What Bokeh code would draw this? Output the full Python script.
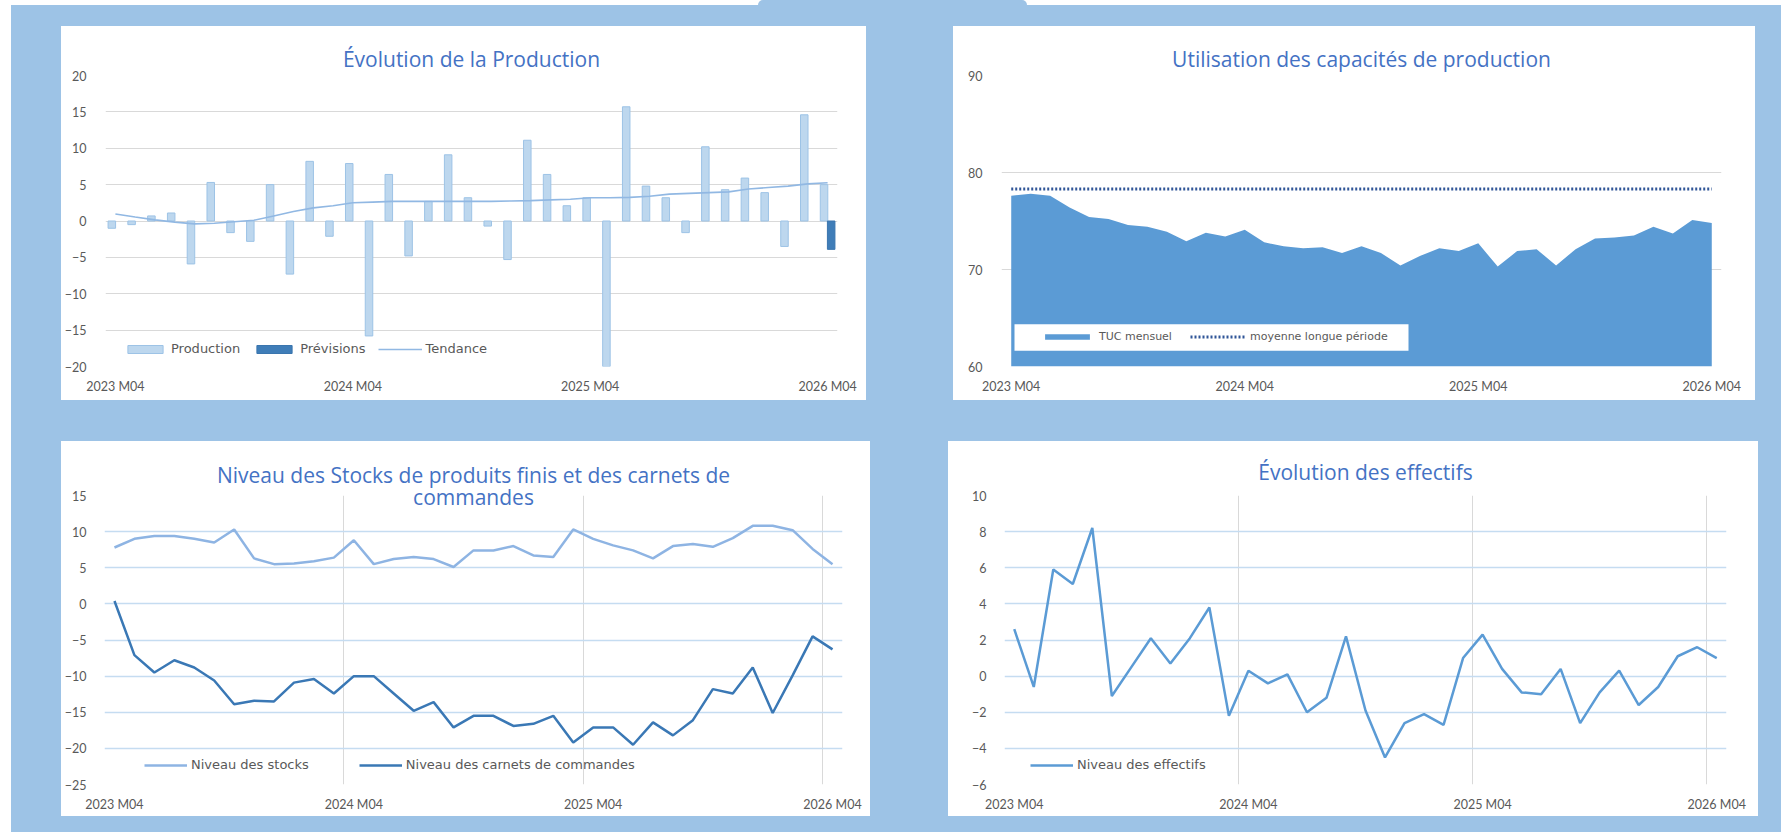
from bokeh.plotting import figure
from bokeh.models import (Range1d, FixedTicker, Legend, LegendItem, BoxAnnotation,
                          Spacer, Title)
from bokeh.layouts import column, row
from bokeh.embed import file_html
from bokeh.resources import INLINE

# ---------------- data ----------------
months = [f"{2023 + (3 + i) // 12} M{(3 + i) % 12 + 1:02d}" for i in range(37)]
tick_labels = ["2023 M04", "2024 M04", "2025 M04", "2026 M04"]

production = [-1.0, -0.5, 0.7, 1.1, -5.9, 5.3, -1.6, -2.8, 5.0, -7.3, 8.2, -2.1, 7.9,
              -15.8, 6.4, -4.8, 2.7, 9.1, 3.2, -0.7, -5.3, 11.1, 6.4, 2.1, 3.2, -20.0,
              15.7, 4.8, 3.2, -1.6, 10.2, 4.3, 5.9, 3.9, -3.5, 14.6, 5.0]
prevision_months = ["2026 M04"]
previsions = [-3.9]
tendance = [0.96, 0.55, 0.15, -0.15, -0.4, -0.3, -0.1, 0.1, 0.7, 1.3, 1.8, 2.1, 2.5,
            2.6, 2.7, 2.7, 2.7, 2.7, 2.7, 2.7, 2.75, 2.8, 2.9, 3.0, 3.2, 3.2, 3.25,
            3.4, 3.7, 3.8, 3.9, 4.0, 4.4, 4.6, 4.8, 5.1, 5.25]

tuc_mensuel = [77.6, 77.8, 77.6, 76.4, 75.4, 75.2, 74.6, 74.4, 73.9, 72.9, 73.8, 73.4,
               74.1, 72.8, 72.4, 72.2, 72.3, 71.7, 72.4, 71.7, 70.4, 71.4, 72.2, 71.9,
               72.7, 70.3, 71.9, 72.1, 70.4, 72.1, 73.2, 73.3, 73.5, 74.4, 73.7, 75.1, 74.8]
moyenne_longue_periode = 78.3

stocks = [7.8, 9.0, 9.4, 9.4, 9.0, 8.5, 10.3, 6.3, 5.5, 5.6, 5.9, 6.4, 8.8, 5.5, 6.2,
          6.5, 6.2, 5.1, 7.4, 7.4, 8.0, 6.7, 6.5, 10.3, 9.0, 8.1, 7.4, 6.3, 8.0, 8.3,
          7.9, 9.1, 10.8, 10.8, 10.2, 7.6, 5.5]
carnets = [0.4, -7.1, -9.5, -7.8, -8.8, -10.6, -13.9, -13.4, -13.5, -10.9, -10.4, -12.4,
           -10.0, -10.0, -12.4, -14.8, -13.6, -17.1, -15.5, -15.5, -16.9, -16.6, -15.5,
           -19.2, -17.1, -17.1, -19.5, -16.4, -18.2, -16.1, -11.8, -12.4, -8.8, -15.1,
           -9.9, -4.5, -6.3]

effectifs = [2.6, -0.6, 5.9, 5.1, 8.2, -1.1, 0.5, 2.1, 0.7, 2.1, 3.8, -2.2, 0.3, -0.4,
             0.1, -2.0, -1.2, 2.2, -1.9, -4.5, -2.6, -2.1, -2.7, 1.0, 2.3, 0.4, -0.9,
             -1.0, 0.4, -2.6, -0.9, 0.3, -1.6, -0.6, 1.1, 1.6, 1.0]

idx = list(range(len(months)))
tick_pos = [months.index(t) for t in tick_labels]
year_bounds = [p - 0.5 for p in tick_pos]

FONT = "Lato"
TITLE_FONT = "Open Sans"
LEG_FONT = "DejaVu Sans"
TXT = "#595959"
TITLE_COLOR = "#4472C4"
BG_BLUE = "#9DC3E6"


def make_fig(w, h, left, right, top, bottom, yr, yticks, xstand, ystand):
    p = figure(width=w, height=h, x_range=Range1d(-0.5, len(months) - 0.5),
               y_range=Range1d(*yr), output_backend="svg", toolbar_location=None,
               min_border_left=left, min_border_right=right,
               min_border_top=top, min_border_bottom=bottom,
               styles={"background-color": "white"})
    p.outline_line_color = None
    p.background_fill_color = "white"
    p.border_fill_color = "white"
    for ax in (p.xaxis[0], p.yaxis[0]):
        ax.axis_line_color = None
        ax.major_tick_line_color = None
        ax.minor_tick_line_color = None
        ax.major_label_text_font = FONT
        ax.major_label_text_font_size = "12.5px"
        ax.major_label_text_color = TXT
    p.xaxis.ticker = FixedTicker(ticks=tick_pos)
    p.xaxis.major_label_overrides = {pos: lab for pos, lab in zip(tick_pos, tick_labels)}
    p.xaxis.major_label_standoff = xstand
    p.yaxis.ticker = FixedTicker(ticks=yticks)
    p.yaxis.major_label_standoff = ystand
    p.ygrid.grid_line_color = "#D9D9D9"
    p.ygrid.grid_line_width = 1
    p.xgrid.visible = False
    return p


def add_title(p, text, standoff, offset):
    p.add_layout(Title(text=text, align="center", text_font=TITLE_FONT, text_font_size="21px",
                       text_font_style="normal", text_color=TITLE_COLOR,
                       standoff=standoff, offset=offset), "above")


def style_legend(lg, loc, gw, gh, spacing, font, fs):
    lg.location = loc
    lg.orientation = "horizontal"
    lg.border_line_color = None
    lg.background_fill_alpha = 0
    lg.padding = 0
    lg.margin = 0
    lg.label_text_font = font
    lg.label_text_font_size = fs
    lg.label_text_color = TXT
    lg.label_height = 14
    lg.glyph_width = gw
    lg.glyph_height = gh
    lg.label_standoff = 4
    lg.spacing = spacing


def year_grid(p):
    p.xgrid.visible = True
    p.xgrid.ticker = FixedTicker(ticks=year_bounds)
    p.xgrid.grid_line_color = "#D9D9D9"
    p.ygrid.grid_line_color = "#C5DCF1"
    p.ygrid.grid_line_width = 1.5


# ---------------- 1: Production ----------------
p1 = make_fig(805, 374, 36, 29, 49, 34, (-20, 20), list(range(-20, 21, 5)), 6, 13)
r_prod = p1.vbar(x=[i - 0.18 for i in idx], top=production, bottom=0, width=0.38,
                 fill_color="#BDD7EE", line_color="#9DC3E6", line_width=1)
r_prev = p1.vbar(x=[months.index(m) + 0.18 for m in prevision_months], top=previsions,
                 bottom=0, width=0.38, fill_color="#3F7DB8", line_color="#3A75AE", line_width=1)
r_tend = p1.line(x=idx, y=tendance, line_color="#91B8E3", line_width=1.6)
add_title(p1, "Évolution de la Production", 5, -3)
lg1 = Legend(items=[LegendItem(label="Production", renderers=[r_prod]),
                    LegendItem(label="Prévisions", renderers=[r_prev]),
                    LegendItem(label="Tendance", renderers=[r_tend])])
style_legend(lg1, (18, 10), 44, 10, 12, LEG_FONT, "13px")
p1.add_layout(lg1, "center")

# ---------------- 2: Utilisation des capacités ----------------
p2 = make_fig(802, 374, 48, 34, 48, 30, (60, 90), [60, 70, 80, 90], 6, 13)
px_x = 720 / len(months)
px_y = 296 / 30
box_l, box_r, box_t, box_b = 13, 407, 74 - 327, 74 - 354  # screen offsets from frame left/top
p2.add_layout(BoxAnnotation(left=-0.5 + box_l / px_x, right=-0.5 + box_r / px_x,
                            top=90 + box_t / px_y, bottom=90 + box_b / px_y,
                            fill_color="white", fill_alpha=1, line_color=None))
r_tuc = p2.varea(x=idx, y1=60, y2=tuc_mensuel, fill_color="#5B9BD5")
r_moy = p2.line(x=[idx[0], idx[-1]], y=[moyenne_longue_periode] * 2, line_color="#2F5597",
                line_width=3, line_dash="2 2")
add_title(p2, "Utilisation des capacités de production", 5, -7)
lg2 = Legend(items=[LegendItem(label="TUC mensuel", renderers=[r_tuc]),
                    LegendItem(label="moyenne longue période", renderers=[r_moy])])
style_legend(lg2, (38, 23), 56, 7, 18, LEG_FONT, "11px")
p2.add_layout(lg2, "center")

# ---------------- 3: Stocks / carnets ----------------
p3 = make_fig(809, 375, 33, 28, 54, 32, (-25, 15), list(range(-25, 16, 5)), 6, 12)
year_grid(p3)
r_st = p3.line(x=idx, y=stocks, line_color="#8EB4E3", line_width=2.5)
r_ca = p3.line(x=idx, y=carnets, line_color="#3A78B5", line_width=2.5)
add_title(p3, "commandes", -31, -2)
add_title(p3, "Niveau des Stocks de produits finis et des carnets de", 13, -2)
lg3 = Legend(items=[LegendItem(label="Niveau des stocks", renderers=[r_st]),
                    LegendItem(label="Niveau des carnets de commandes", renderers=[r_ca])])
style_legend(lg3, (40, 12), 43, 10, 50, LEG_FONT, "13px")
p3.add_layout(lg3, "center")

# ---------------- 4: Effectifs ----------------
p4 = make_fig(810, 375, 56, 32, 54, 30, (-6, 10), list(range(-6, 11, 2)), 6, 12)
year_grid(p4)
r_ef = p4.line(x=idx, y=effectifs, line_color="#5B9BD5", line_width=2.5)
add_title(p4, "Évolution des effectifs", 20, -12)
lg4 = Legend(items=[LegendItem(label="Niveau des effectifs", renderers=[r_ef])])
style_legend(lg4, (26, 12), 43, 10, 20, LEG_FONT, "13px")
p4.add_layout(lg4, "center")

blue = {"background-color": BG_BLUE}
blue_col = column(
    Spacer(width=1770, height=21),
    row(Spacer(width=50, height=374), p1, Spacer(width=87, height=374), p2,
        Spacer(width=26, height=374)),
    Spacer(width=1770, height=41),
    row(Spacer(width=50, height=375), p3, Spacer(width=78, height=375), p4,
        Spacer(width=23, height=375)),
    Spacer(width=1770, height=16),
    styles=blue,
)
root = column(
    row(Spacer(width=758, height=5),
        Spacer(width=269, height=5, styles={"background-color": BG_BLUE,
                                            "border-radius": "6px 6px 0 0"})),
    row(Spacer(width=11, height=827), blue_col),
)

open("out.html", "w").write(file_html(root, INLINE))
